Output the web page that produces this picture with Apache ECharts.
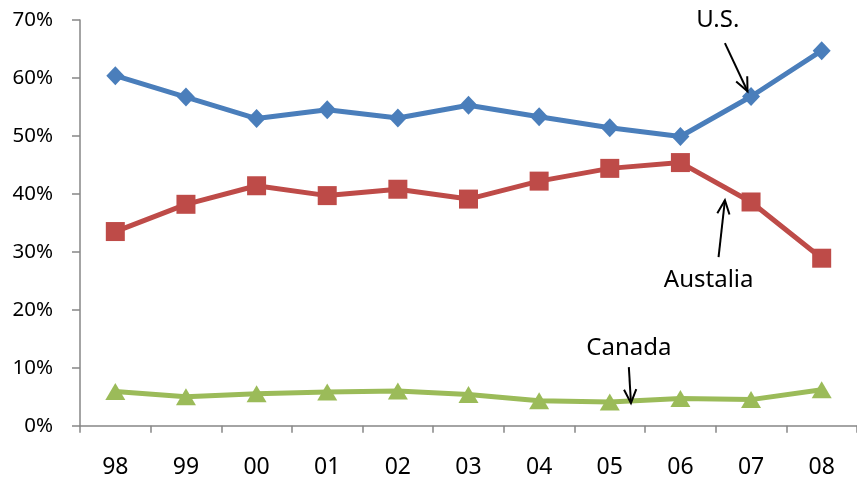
<!DOCTYPE html>
<html>
<head>
<meta charset="utf-8">
<script src="https://cdn.jsdelivr.net/npm/echarts@6/dist/echarts.min.js"></script>
<style>
  html, body { margin: 0; padding: 0; background: #fff; }
  #chart { width: 857px; height: 484px; }
</style>
</head>
<body>
<div id="chart"></div>
<script>
// Years (two-digit labels) along the category axis
const years = ['98', '99', '00', '01', '02', '03', '04', '05', '06', '07', '08'];

// Share of total, in percent
const usShare = [60.4, 56.7, 53.0, 54.5, 53.1, 55.3, 53.3, 51.4, 49.9, 56.8, 64.7];
const australiaShare = [33.5, 38.2, 41.4, 39.7, 40.8, 39.1, 42.2, 44.4, 45.4, 38.6, 28.9];
const canadaShare = [5.9, 5.0, 5.5, 5.8, 6.0, 5.4, 4.3, 4.1, 4.7, 4.5, 6.2];

// Value axis ticks
const yTicks = [0, 10, 20, 30, 40, 50, 60, 70];

// Callout labels with arrows, in data space: [category index, value]
const callouts = [
  { text: 'U.S.',      label: [8.53, 70.0], from: [8.63, 66.0], to: [8.95, 57.7] },
  { text: 'Austalia',  label: [8.40, 25.1], from: [8.54, 29.1], to: [8.63, 38.9] },
  { text: 'Canada',    label: [7.27, 13.4], from: [7.27, 10.1], to: [7.30, 3.9] }
];

const FONT = '"Noto Sans", "Open Sans", sans-serif';
const AXIS_COLOR = '#868686';

const chart = echarts.init(document.getElementById('chart'), null, { renderer: 'canvas' });

const lineSeries = (name, data, color, symbol, size) => ({
  name: name,
  type: 'line',
  data: data,
  symbol: symbol,
  symbolSize: size,
  showAllSymbol: true,
  lineStyle: { color: color, width: 5 },
  itemStyle: { color: color },
  emphasis: { disabled: true },
  animation: false,
  z: 2
});

chart.setOption({
  animation: false,
  grid: { left: 80, top: 20, width: 782, height: 405.7, containLabel: false },
  xAxis: {
    type: 'category',
    data: years,
    boundaryGap: true,
    axisLine: { lineStyle: { color: AXIS_COLOR, width: 1.5 } },
    axisTick: { show: true, length: 7, alignWithLabel: false, lineStyle: { color: AXIS_COLOR, width: 1.5 } },
    axisLabel: { color: '#000', fontFamily: FONT, fontSize: 23, margin: 30 }
  },
  yAxis: {
    type: 'value',
    min: yTicks[0],
    max: yTicks[yTicks.length - 1],
    interval: 10,
    splitLine: { show: false },
    axisLine: { show: true, lineStyle: { color: AXIS_COLOR, width: 1.5 } },
    axisTick: { show: true, length: 8, lineStyle: { color: AXIS_COLOR, width: 1.5 } },
    axisLabel: {
      color: '#000', fontFamily: FONT, fontSize: 20.5, margin: 27,
      formatter: v => v + '%'
    }
  },
  series: [
    lineSeries('U.S.', usShare, '#4A7EBB', 'diamond', [18, 19]),
    lineSeries('Austalia', australiaShare, '#BE4B48', 'rect', [19, 19]),
    lineSeries('Canada', canadaShare, '#9BBB59', 'triangle', [20, 17])
  ]
});

// Convert a fractional category position and value to pixels
function toPixel(pt) {
  const i0 = Math.floor(pt[0]);
  const f = pt[0] - i0;
  const a = chart.convertToPixel({ gridIndex: 0 }, [i0, pt[1]]);
  const b = chart.convertToPixel({ gridIndex: 0 }, [i0 + 1, pt[1]]);
  return [a[0] + (b[0] - a[0]) * f, a[1]];
}

const graphics = [];
callouts.forEach(c => {
  const lp = toPixel(c.label);
  const p0 = toPixel(c.from);
  const p1 = toPixel(c.to);
  graphics.push({
    type: 'text',
    x: lp[0], y: lp[1],
    style: {
      text: c.text, fill: '#000', font: '24px ' + FONT,
      align: 'center', verticalAlign: 'middle'
    },
    z: 10
  });
  graphics.push({
    type: 'line',
    shape: { x1: p0[0], y1: p0[1], x2: p1[0], y2: p1[1] },
    style: { stroke: '#000', lineWidth: 2 },
    z: 10
  });
  // open arrowhead
  const ang = Math.atan2(p1[1] - p0[1], p1[0] - p0[0]);
  const len = 15, spread = 0.42;
  const l = [p1[0] - len * Math.cos(ang - spread), p1[1] - len * Math.sin(ang - spread)];
  const r = [p1[0] - len * Math.cos(ang + spread), p1[1] - len * Math.sin(ang + spread)];
  graphics.push({
    type: 'polyline',
    shape: { points: [l, p1, r] },
    style: { stroke: '#000', lineWidth: 2, fill: null },
    z: 10
  });
});

chart.setOption({ graphic: graphics });
</script>
</body>
</html>
